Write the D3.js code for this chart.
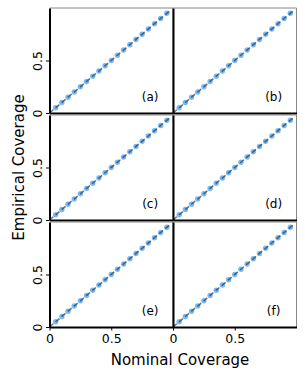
<!DOCTYPE html>
<html>
<head>
<meta charset="utf-8">
<script src="https://cdn.jsdelivr.net/npm/d3@7"></script>
<style>
  body { margin: 0; background: #fff; }
  text { font-family: "DejaVu Sans", sans-serif; }
</style>
</head>
<body>
<div id="chart"></div>
<script>
// nominal coverage levels
const nominal = [0.05, 0.1, 0.15, 0.2, 0.25, 0.3, 0.35, 0.4, 0.45, 0.5,
                 0.55, 0.6, 0.65, 0.7, 0.75, 0.8, 0.85, 0.9, 0.95]
const panelLabels = ["(a)", "(b)", "(c)", "(d)", "(e)", "(f)"]
// empirical coverage for each panel (all near the diagonal)
const empA = [0.05, 0.1, 0.15, 0.2, 0.25, 0.3, 0.35, 0.4, 0.45, 0.5, 0.55, 0.6, 0.65, 0.7, 0.75, 0.8, 0.85, 0.9, 0.95]
const empB = [0.05, 0.1, 0.15, 0.2, 0.25, 0.3, 0.35, 0.4, 0.45, 0.5, 0.55, 0.6, 0.65, 0.7, 0.75, 0.8, 0.85, 0.9, 0.95]
const empC = [0.05, 0.1, 0.15, 0.2, 0.25, 0.3, 0.35, 0.4, 0.45, 0.5, 0.55, 0.6, 0.65, 0.7, 0.75, 0.8, 0.85, 0.9, 0.95]
const empD = [0.05, 0.1, 0.15, 0.2, 0.25, 0.3, 0.35, 0.4, 0.45, 0.5, 0.55, 0.6, 0.65, 0.7, 0.75, 0.8, 0.85, 0.9, 0.95]
const empE = [0.05, 0.1, 0.15, 0.2, 0.25, 0.3, 0.35, 0.4, 0.45, 0.5, 0.55, 0.6, 0.65, 0.7, 0.75, 0.8, 0.85, 0.9, 0.95]
const empF = [0.05, 0.1, 0.15, 0.2, 0.25, 0.3, 0.35, 0.4, 0.45, 0.5, 0.55, 0.6, 0.65, 0.7, 0.75, 0.8, 0.85, 0.9, 0.95]
const empirical = [empA, empB, empC, empD, empE, empF]
// ideal line y = x
const ideal = [0, 0.97]
const xTicks = [0, 0.5]
const yTicks = [0, 0.5]

const width = 305, height = 377
const colX = [49.5, 173]
const rowY = [8, 115, 222]
const pw = 123.5, ph = 105

const svg = d3.select("#chart").append("svg")
  .attr("width", width).attr("height", height)

const fmt = d => d === 0 ? "0" : d3.format(".1f")(d)

panelLabels.forEach((lab, i) => {
  const col = i % 2, row = Math.floor(i / 2)
  const x = d3.scaleLinear().domain([0, 1]).range([colX[col], colX[col] + pw])
  const y = d3.scaleLinear().domain([0, 1]).range([rowY[row] + ph, rowY[row]])
  const g = svg.append("g")

  // top/right spines (grey)
  g.append("path")
    .attr("d", `M${x(0)},${y(1)}H${x(1)}V${y(0)}`)
    .attr("fill", "none").attr("stroke", "#888").attr("stroke-width", 1)

  // points
  g.append("g").selectAll("circle")
    .data(nominal.map((n, k) => [n, empirical[i][k]]))
    .join("circle")
    .attr("cx", d => x(d[0]))
    .attr("cy", d => y(d[1]))
    .attr("r", 2.7)
    .attr("fill", "#5caefa")
    .attr("opacity", 0.85)

  // ideal dashed line
  g.append("path")
    .datum(ideal)
    .attr("d", d3.line().x(d => x(d)).y(d => y(d)))
    .attr("stroke", "#3a3a3a")
    .attr("stroke-width", 1.6)
    .attr("stroke-dasharray", "5,3")
    .attr("opacity", 0.7)

  g.append("text")
    .attr("x", x(0.815)).attr("y", y(0.11))
    .attr("text-anchor", "middle")
    .attr("font-size", 12)
    .text(lab)

  // left axis
  const yAxis = g.append("g")
    .attr("transform", `translate(${x(0)},0)`)
    .call(d3.axisLeft(y).tickValues(col === 0 ? yTicks : []).tickSize(3.5).tickSizeOuter(0).tickFormat(fmt))
  yAxis.select(".domain").attr("stroke", "#000").attr("stroke-width", 2)
  yAxis.selectAll(".tick text")
    .attr("font-size", 12.5)
    .attr("font-family", "DejaVu Sans, sans-serif")
    .attr("fill", "#000")
    .attr("transform", "rotate(-90)")
    .attr("x", 0).attr("dx", 0)
    .attr("y", -8)
    .attr("dy", 0)
    .attr("text-anchor", "middle")

  // bottom axis
  const xAxis = g.append("g")
    .attr("transform", `translate(0,${y(0)})`)
    .call(d3.axisBottom(x).tickValues(row === 2 ? xTicks : []).tickSize(3.5).tickSizeOuter(0).tickFormat(fmt))
  xAxis.select(".domain").attr("stroke", "#000").attr("stroke-width", 2)
  xAxis.selectAll(".tick text")
    .attr("font-size", 12.5)
    .attr("font-family", "DejaVu Sans, sans-serif")
    .attr("fill", "#000")
    .attr("y", 7.5)
})

svg.append("text")
  .attr("transform", `translate(24,${(rowY[0] + rowY[2] + ph) / 2}) rotate(-90)`)
  .attr("text-anchor", "middle")
  .attr("font-size", 15)
  .text("Empirical Coverage")

svg.append("text")
  .attr("x", colX[1] + 7).attr("y", 365)
  .attr("text-anchor", "middle")
  .attr("font-size", 15)
  .text("Nominal Coverage")
</script>
</body>
</html>
